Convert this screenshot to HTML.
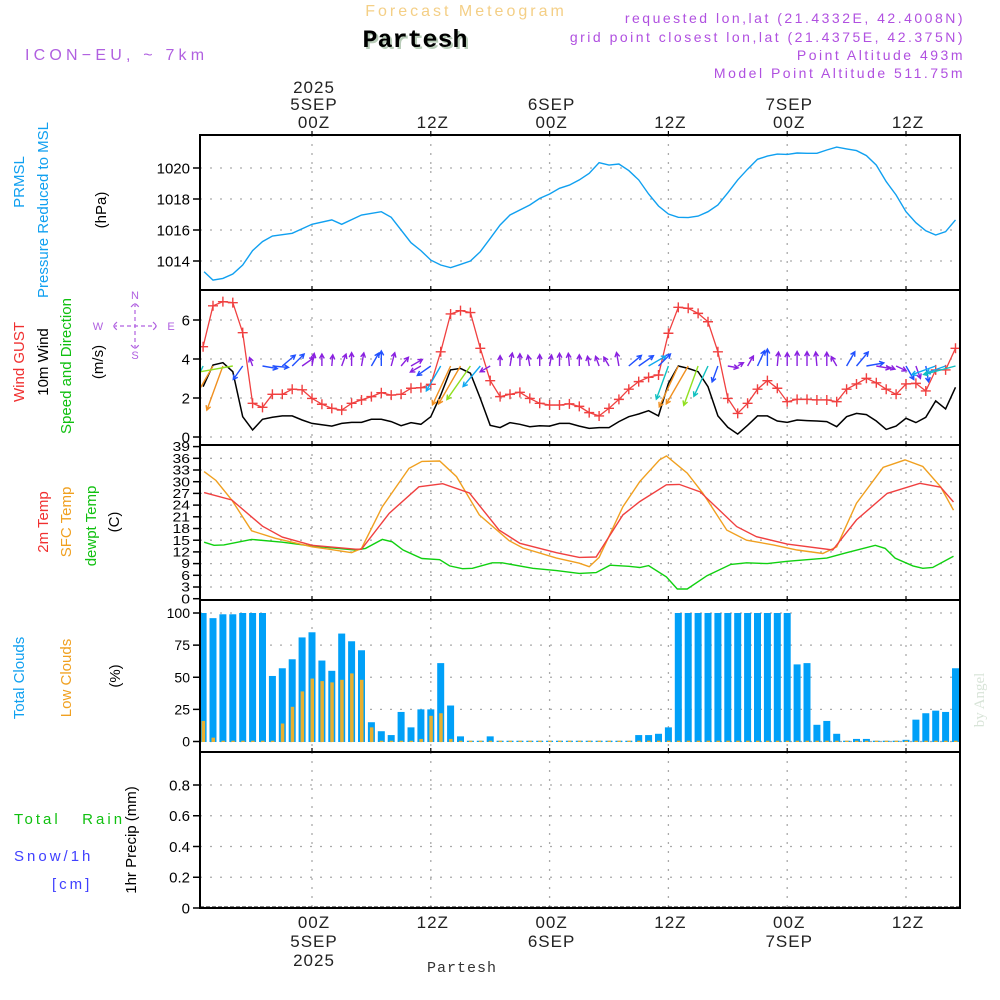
<!DOCTYPE html>
<html><head><meta charset="utf-8"><style>
html,body{margin:0;padding:0;background:#fff;}
svg{display:block;font-family:"Liberation Sans",sans-serif;}
</style></head><body>
<svg id="chart" width="1000" height="1000" viewBox="0 0 1000 1000" xmlns="http://www.w3.org/2000/svg">
<g>
<text x="466" y="16" text-anchor="middle" font-size="16" letter-spacing="3" fill="#f4cf86">Forecast Meteogram</text>
<text x="417" y="49" text-anchor="middle" font-family="Liberation Mono,monospace" font-weight="bold" font-size="25" fill="#b8ccb8">Partesh</text>
<text x="415" y="47" text-anchor="middle" font-family="Liberation Mono,monospace" font-weight="bold" font-size="25" fill="#000">Partesh</text>
<text x="25" y="60" font-size="16" letter-spacing="4.2" fill="#b060e0">ICON−EU, ~ 7km</text>
<g font-size="14" fill="#b050e0" text-anchor="end" letter-spacing="2.5">
<text x="965" y="23">requested lon,lat (21.4332E, 42.4008N)</text>
<text x="965" y="42">grid point closest lon,lat (21.4375E, 42.375N)</text>
<text x="965" y="60">Point Altitude 493m</text>
<text x="965" y="78">Model Point Altitude 511.75m</text>
</g>
</g>
<g font-size="15">
<text transform="translate(24,182) rotate(-90)" text-anchor="middle" fill="#10a0f0">PRMSL</text>
<text transform="translate(48,210) rotate(-90)" text-anchor="middle" fill="#10a0f0">Pressure Reduced to MSL</text>
<text transform="translate(106,210) rotate(-90)" text-anchor="middle" fill="#000">(hPa)</text>
<text transform="translate(24,362) rotate(-90)" text-anchor="middle" fill="#f03030">Wind GUST</text>
<text transform="translate(48,362) rotate(-90)" text-anchor="middle" fill="#000">10m Wind</text>
<text transform="translate(71,366) rotate(-90)" text-anchor="middle" fill="#10c010">Speed and Direction</text>
<text transform="translate(103,362) rotate(-90)" text-anchor="middle" fill="#000">(m/s)</text>
<text transform="translate(48,522) rotate(-90)" text-anchor="middle" fill="#f03030">2m Temp</text>
<text transform="translate(71,522) rotate(-90)" text-anchor="middle" fill="#f0a020">SFC Temp</text>
<text transform="translate(96,526) rotate(-90)" text-anchor="middle" fill="#10c010">dewpt Temp</text>
<text transform="translate(119,522) rotate(-90)" text-anchor="middle" fill="#000">(C)</text>
<text transform="translate(24,678) rotate(-90)" text-anchor="middle" fill="#10a0f0">Total Clouds</text>
<text transform="translate(71,678) rotate(-90)" text-anchor="middle" fill="#f0a020">Low Clouds</text>
<text transform="translate(120,676) rotate(-90)" text-anchor="middle" fill="#000">(%)</text>
<text x="14" y="824" fill="#10c010" letter-spacing="3" xml:space="preserve">Total   Rain</text>
<text x="14" y="861" fill="#4040ff" letter-spacing="3">Snow/1h</text>
<text x="52" y="889" fill="#4040ff" letter-spacing="3">[cm]</text>
<text transform="translate(136,840) rotate(-90)" text-anchor="middle" fill="#000">1hr Precip (mm)</text>
</g>
<g fill="#b060e0" stroke="#b060e0" font-size="11">
<text x="135" y="299" text-anchor="middle" stroke="none">N</text>
<text x="98" y="330" text-anchor="middle" stroke="none">W</text>
<text x="171" y="330" text-anchor="middle" stroke="none">E</text>
<text x="135" y="359" text-anchor="middle" stroke="none">S</text>
<path d="M135 303V349M113 326H157M117 322L113 326L117 330M153 322L157 326L153 330M131 307L135 303L139 307M131 345L135 349L139 345" fill="none" stroke-width="1.2" stroke-dasharray="4,3"/>
</g>
<text transform="translate(984,700) rotate(-90)" text-anchor="middle" font-family="Liberation Serif,serif" font-size="15" fill="#d8e4d8">by Angel</text>
<text x="462" y="972" text-anchor="middle" font-family="Liberation Mono,monospace" font-size="15" letter-spacing="1" fill="#333">Partesh</text>
<g id="plots"></g>
</svg>
<script>
// ---- data (hours relative to 00Z 5 SEP 2025) ----
const timeTickHours = [0, 12, 24, 36, 48, 60];
const timeTickLabels = ["00Z", "12Z", "00Z", "12Z", "00Z", "12Z"];
const dateLabels = ["5SEP", "", "6SEP", "", "7SEP", ""];
const yearLabels = ["2025", "", "", "", "", ""];

const pressHours = [-10.9,-10,-9,-8,-7,-6,-5,-4,-2,0,2,3,5,7,8,10,11,12,13,14,15,16,17,18,19,20,22,23,24,25,26,27,28,29,30,31,32,33,34,35,36,37,38,39,40,41,42,43,44,45,46,47,48,49,50,51,52,53,54,55,56,57,58,59,60,61,62,63,64,65];
const pressVals = [1013.31,1012.77,1012.88,1013.16,1013.74,1014.67,1015.25,1015.61,1015.79,1016.37,1016.65,1016.37,1016.97,1017.18,1016.82,1015.18,1014.67,1014.06,1013.74,1013.57,1013.78,1014.0,1014.6,1015.46,1016.32,1016.97,1017.61,1018.04,1018.32,1018.69,1018.9,1019.23,1019.66,1020.34,1020.19,1020.26,1019.83,1019.23,1018.32,1017.55,1017.03,1016.82,1016.8,1016.9,1017.18,1017.61,1018.4,1019.23,1019.92,1020.56,1020.77,1020.9,1020.88,1020.97,1020.95,1020.95,1021.16,1021.35,1021.23,1021.12,1020.8,1020.19,1019.12,1018.26,1017.18,1016.47,1015.95,1015.68,1015.89,1016.65];
const pressTicks = [1014, 1016, 1018, 1020];

const windHours = [-11,-10,-9,-8,-7,-6,-5,-4,-3,-2,-1,0,1,2,3,4,5,6,7,8,9,10,11,12,13,14,15,16,17,18,19,20,21,22,23,24,25,26,27,28,29,30,31,32,33,34,35,36,37,38,39,40,41,42,43,44,45,46,47,48,49,50,51,52,53,54,55,56,57,58,59,60,61,62,63,64,65];
const gustVals = [4.63,6.73,6.94,6.89,5.35,1.73,1.52,2.19,2.19,2.45,2.42,1.98,1.68,1.47,1.38,1.73,1.9,2.07,2.27,2.15,2.19,2.5,2.53,2.7,4.37,6.31,6.48,6.38,4.55,2.89,2.07,2.19,2.29,1.98,1.73,1.64,1.64,1.7,1.57,1.25,1.08,1.47,1.93,2.45,2.84,3.06,3.18,5.32,6.65,6.6,6.34,5.91,4.37,1.98,1.21,1.73,2.45,2.89,2.5,1.81,1.93,1.93,1.9,1.9,1.81,2.45,2.72,3.01,2.78,2.45,2.19,2.72,2.75,2.36,3.44,3.44,4.55];
const wind10Vals = [2.58,3.69,3.81,3.35,1.04,0.36,0.91,1.01,1.08,1.08,0.87,0.7,0.63,0.56,0.7,0.75,0.75,0.91,0.91,0.79,0.58,0.74,0.65,1.04,2.15,3.44,3.52,3.27,1.98,0.6,0.48,0.74,0.65,0.53,0.58,0.56,0.7,0.7,0.56,0.44,0.48,0.48,0.79,1.04,1.18,1.35,1.08,2.75,3.64,3.52,3.35,2.58,1.08,0.5,0.15,0.6,1.08,1.08,0.82,0.75,0.87,0.84,0.82,0.79,0.53,1.04,1.21,1.15,0.82,0.39,0.56,0.96,0.74,1.01,1.85,1.44,2.55];
const windDirDeg = [205,210,200,260,215,340,100,95,50,45,55,10,0,5,20,0,10,30,0,15,40,60,240,235,210,205,210,215,220,240,0,10,0,350,0,10,0,355,0,350,340,330,350,50,55,60,45,200,205,210,200,205,200,100,60,30,25,0,5,0,0,0,355,0,330,30,40,80,100,110,115,150,160,170,250,250,255];
const windTicks = [0, 2, 4, 6];

const t2mHours = [-10.9,-8.1,-5,-3,0,4.4,5,7.8,10.8,13.2,15.9,18.9,21,24.7,27,28.7,31.4,33.1,35.8,37.1,39.2,42.9,44.9,48,52.6,55,58.1,61.4,63.5,64.8];
const t2mVals = [27.2,25.3,18.6,15.8,13.7,12.7,12.7,21.9,28.7,29.5,27.1,17.6,14.2,11.8,10.6,10.7,21.5,24.9,29.2,29.3,27.4,18.5,15.9,14.0,12.5,20.2,27.0,29.6,28.6,24.8];
const sfcHours = [-10.9,-9.7,-8.1,-6.1,-3.7,0,1.7,4,5,7.1,9.8,11.1,12.9,14.6,16.9,19.9,21.3,24.7,27,28,29,31.4,33.1,35.1,35.8,37.9,39.5,41.9,43.9,46.6,49,51.6,53,55,57.7,59.9,61.7,63.5,64.8];
const sfcVals = [32.6,30.3,25.3,17.4,15.5,13.3,12.7,11.8,12.9,23.6,33.4,35.2,35.3,31.3,21.5,14.9,13.0,10.4,9.1,8.2,10.6,23.6,30.0,35.6,36.6,32.2,27.0,17.6,15.0,13.8,12.5,11.6,13.3,24.5,33.7,35.6,33.9,28.7,22.7];
const dewHours = [-10.9,-9.9,-8.9,-6.1,-3,0,4.4,5.4,7.1,8.1,9.2,11.1,12.9,13.9,15.2,16.2,18.2,19.2,22.3,24.7,27,28.7,30.1,32,33.1,34,35.8,36.9,37.9,39.9,42.3,43.9,46,48,52,54,56.9,57.9,58.9,60.7,61.7,62.7,64.8];
const dewVals = [14.5,13.7,13.8,15.2,14.5,13.5,12.5,12.9,15.2,14.6,12.5,10.3,10.0,8.4,7.7,7.8,9.2,9.2,7.8,7.2,6.5,6.7,8.6,8.3,8.0,8.5,5.6,2.5,2.5,5.9,8.8,9.2,9.0,9.6,10.4,11.8,13.7,12.9,10.4,8.4,7.8,8.0,10.9];
const tempTicks = [0,3,6,9,12,15,18,21,24,27,30,33,36,39];

const cloudHours = [-11,-10,-9,-8,-7,-6,-5,-4,-3,-2,-1,0,1,2,3,4,5,6,7,8,9,10,11,12,13,14,15,16,17,18,19,20,21,22,23,24,25,26,27,28,29,30,31,32,33,34,35,36,37,38,39,40,41,42,43,44,45,46,47,48,49,50,51,52,53,54,55,56,57,58,59,60,61,62,63,64,65];
const totalCloud = [100,96,99,99,100,100,100,51,57,64,81,85,63,55,84,78,71,15,8,5,23,11,25,25,61,28,4,0,0,4,0,0,0,0,0,0,0,0,0,0,0,0,0,0,5,5,6,11,100,100,100,100,100,100,100,100,100,100,100,100,60,61,13,16,6,0,2,2,0,0,0,1.3,17,22,24,23,57];
const lowCloud = [16,3,0,0,0,0,0,0,14,27,39,49,47,46,48,53,48,11,0,0,0,0,2,20,22,2,0,0,0,0,0,0,0,0,0,0,0,0,0,0,0,0,0,0,0,0,0,0,0,0,0,0,0,0,0,0,0,0,0,0,0,0,0,0,0,0,0,0,0,0,0,0,0,0,0,0,0];
const cloudTicks = [0, 25, 50, 75, 100];

const precipTicks = [0, 0.2, 0.4, 0.6, 0.8];
const precipTickLabels = ["0", "0.2", "0.4", "0.6", "0.8"];

// ---- layout ----
const NS = "http://www.w3.org/2000/svg";
const L = 200, R = 960;
const X = h => 312 + h * 9.9;
const yP = v => 261 - (v - 1014) * 15.5;
const yW = v => 437 - v * 19.5;
const yT = v => 598.7 - v * 3.9;
const yC = v => 741.5 - v * 1.285;
const yR = v => 908 - v * 153.75;
const plots = document.getElementById("plots");
function el(tag, attrs, parent) {
  const e = document.createElementNS(NS, tag);
  for (const k in attrs) e.setAttribute(k, attrs[k]);
  (parent || plots).appendChild(e);
  return e;
}
const panels = [
  {name: "pressure", top: 135, bot: 290, ticks: pressTicks, labels: pressTicks.map(String), f: yP, fs: 15},
  {name: "wind", top: 290, bot: 445, ticks: windTicks, labels: windTicks.map(String), f: yW, fs: 15},
  {name: "temperature", top: 445, bot: 600, ticks: tempTicks, labels: tempTicks.map(String), f: yT, fs: 15},
  {name: "clouds", top: 600, bot: 752, ticks: cloudTicks, labels: cloudTicks.map(String), f: yC, fs: 14},
  {name: "precip", top: 752, bot: 908, ticks: precipTicks, labels: precipTickLabels, f: yR, fs: 15}
];
panels.forEach(p => {
  const g = el("g", {});
  
  
  p.g = g;
  timeTickHours.forEach(h => {
    const ln = el("line", {x1: X(h), x2: X(h), y1: p.top, y2: p.bot, stroke: "#aaa", "stroke-width": 1.3, "stroke-dasharray": "2,7"}, g);
    
    
    const tk = el("line", {x1: X(h), x2: X(h), y1: p.top - 4, y2: p.top + 1, stroke: "#000", "stroke-width": 1.2}, g);
    
    
  });
  p.ticks.forEach((t, i) => {
    const y = p.f(t);
    if (y > p.top + 3 && y < p.bot - 3) {
      const gl = el("line", {x1: L, x2: R, y1: y, y2: y, stroke: "#aaa", "stroke-width": 1.3, "stroke-dasharray": "2,8"}, g);
      
      
    }
    const tk = el("line", {x1: L - 7, x2: L, y1: y, y2: y, stroke: "#000", "stroke-width": 1.5}, g);
    
    
    const tx = el("text", {x: L - 10, y: y + p.fs * 0.36, "text-anchor": "end", "font-size": p.fs, fill: "#000"}, g);
    if (p.name === "temperature") tx.setAttribute("transform", `translate(0,${y}) scale(1.05,0.85) translate(${-(L-10)*0.05/1.05},${-y})`);
    tx.textContent = p.labels[i];
    
    
  });
});
const defs = el("defs", {});
const cp = el("clipPath", {id: "clip"}, defs);
el("rect", {x: L, y: 135, width: R - L, height: 773}, cp);

function line(hs, vs, f, color, name, g, w) {
  const d = hs.map((h, i) => (i ? "L" : "M") + X(h).toFixed(1) + " " + f(vs[i]).toFixed(1)).join("");
  const p = el("path", {d, fill: "none", stroke: color, "stroke-width": w || 1.4, "clip-path": "url(#clip)"}, g);
  
  
  return p;
}
line(pressHours, pressVals, yP, "#10a0f0", "pressure-line", panels[0].g);
const wg = panels[1].g;
line(windHours, wind10Vals, yW, "#000", "wind-10m-line", wg, 1.5);
line(windHours, gustVals, yW, "#f04040", "gust-line", wg, 1.3);
windHours.forEach((h, i) => {
  const m = el("path", {d: `M${X(h) - 5} ${yW(gustVals[i])}h10M${X(h)} ${yW(gustVals[i]) - 5}v10`, stroke: "#f04040", "stroke-width": 1.4, "clip-path": "url(#clip)"}, wg);
  
  
});
function windColor(s) {
  if (s < 0.9) return "#8a20e0";
  if (s < 1.3) return "#2050ff";
  if (s < 2.2) return "#10a8f0";
  if (s < 2.8) return "#10c0c0";
  if (s < 3.4) return "#90e020";
  return "#f09020";
}
windHours.forEach((h, i) => {
  const s = wind10Vals[i], a = windDirDeg[i] * Math.PI / 180;
  const len = 5 + s * 11;
  const x0 = X(h), y0 = 366;
  const x1 = x0 + Math.sin(a) * len, y1 = y0 - Math.cos(a) * len;
  const hl = 5, b = Math.atan2(y1 - y0, x1 - x0);
  const d = `M${x0} ${y0}L${x1} ${y1}M${x1 - hl * Math.cos(b - 0.5)} ${y1 - hl * Math.sin(b - 0.5)}L${x1} ${y1}L${x1 - hl * Math.cos(b + 0.5)} ${y1 - hl * Math.sin(b + 0.5)}`;
  const ar = el("path", {d, fill: "none", stroke: windColor(s), "stroke-width": 1.4, "clip-path": "url(#clip)"}, wg);
  
  
});
const tg = panels[2].g;
line(dewHours, dewVals, yT, "#10d010", "dewpoint-line", tg);
line(sfcHours, sfcVals, yT, "#f0a020", "sfc-temp-line", tg);
line(t2mHours, t2mVals, yT, "#f04040", "temp-2m-line", tg);
const cg = panels[3].g;
cloudHours.forEach((h, i) => {
  const v = Math.max(totalCloud[i], 0.6);
  const b = el("rect", {x: X(h) - 3.5, y: yC(v), width: 7, height: yC(0) - yC(v) + 0.5, fill: "#00a0f8", "clip-path": "url(#clip)"}, cg);
  
  
  const lv = Math.max(lowCloud[i], 0.6);
  const lb = el("rect", {x: X(h) - 1.5, y: yC(lv), width: 3.5, height: yC(0) - yC(lv) + 0.5, fill: "#e8b030", "clip-path": "url(#clip)"}, cg);
  
  
});
const pz = el("line", {x1: L, x2: R, y1: 907, y2: 907, stroke: "#000", "stroke-width": 1, "stroke-dasharray": "4,2"}, panels[4].g);


panels.forEach(p => {
  const f = el("rect", {x: L, y: p.top, width: R - L, height: p.bot - p.top, fill: "none", stroke: "#000", "stroke-width": 2}, p.g);
  
  
});
const ta = el("g", {"font-size": 17, fill: "#222", "text-anchor": "middle", "letter-spacing": 1});


timeTickHours.forEach((h, i) => {
  const x = X(h) + 2;
  const rows = [[yearLabels[i], 93, 966], [dateLabels[i], 110, 947], [timeTickLabels[i], 128, 928]];
  rows.forEach(([s, yt, yb]) => {
    if (!s) return;
    const top = el("text", {x, y: yt}, ta);
    top.textContent = s;
    
    
    const bot = el("text", {x, y: yb}, ta);
    bot.textContent = s;
    
    
  });
});
</script>
</body></html>
